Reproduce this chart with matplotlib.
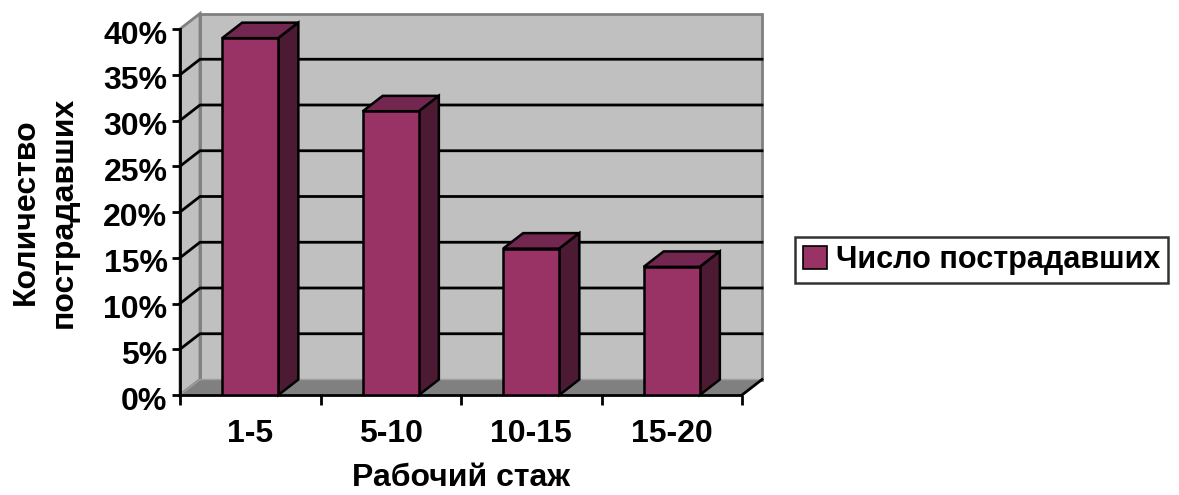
import matplotlib
matplotlib.use("Agg")
import matplotlib.pyplot as plt
from matplotlib.patches import Polygon
from matplotlib.ticker import FuncFormatter
from matplotlib.transforms import ScaledTranslation

plt.rcParams['font.family'] = ['Liberation Sans', 'DejaVu Sans']
plt.rcParams['font.weight'] = 'bold'

categories = ['1-5', '5-10', '10-15', '15-20']
values = [39, 31, 16, 14]
series_name = 'Число пострадавших'
x_title = 'Рабочий стаж'
y_title = 'Количество\nпострадавших'

W, H = 1179, 495
fig = plt.figure(figsize=(W / 100, H / 100), dpi=100)

# front plane of the 3d box, in pixels
left, right, bottom, top = 180, 742, 395, 29
ax = fig.add_axes([left / W, 1 - bottom / H, (right - left) / W, (bottom - top) / H])
ymax = 40
ax.set_xlim(0, len(categories))
ax.set_ylim(0, ymax)

# depth offsets (data units)
dx = 20 / ((right - left) / len(categories))
dy = 15.5 / ((bottom - top) / ymax)

wall = '#c0c0c0'
floor = '#808080'
front_col = '#993366'
top_col = '#732650'
side_col = '#4d1a33'
n = len(categories)


def poly(pts, fc, ec='none', lw=0, z=1):
    ax.add_patch(Polygon(pts, closed=True, facecolor=fc, edgecolor=ec,
                         linewidth=lw, zorder=z, clip_on=False))


# walls and floor
poly([(dx, dy), (n + dx, dy), (n + dx, ymax + dy), (dx, ymax + dy)], wall, '#808080', 2, 0.5)
poly([(0, 0), (dx, dy), (dx, ymax + dy), (0, ymax)], wall, '#808080', 2, 0.6)
poly([(0, 0), (n, 0), (n + dx, dy), (dx, dy)], floor, '#a0a0a0', 1, 0.7)
ax.plot([0, n], [0, 0], color='black', lw=2, zorder=0.8, clip_on=False, solid_capstyle='butt')
ax.plot([n, n + dx], [0, dy], color='black', lw=2, zorder=0.8, clip_on=False)

# gridlines on side and back wall
for v in range(5, ymax, 5):
    ax.plot([0, dx, n + dx], [v, v + dy, v + dy], color='black', lw=2, zorder=0.9,
            clip_on=False)

# columns: front face from ax.bar, top and side faces from the same values
w = 0.4
xs = [i + 0.5 for i in range(n)]
bars = ax.bar(xs, values, width=w, color=front_col, edgecolor='black', linewidth=1.8,
              zorder=3, label=series_name)
for x, v in zip(xs, values):
    x0, x1 = x - w / 2, x + w / 2
    poly([(x0, v), (x1, v), (x1 + dx, v + dy), (x0 + dx, v + dy)], top_col, 'black', 1.8, 2)
    poly([(x1, 0), (x1 + dx, dy), (x1 + dx, v + dy), (x1, v)], side_col, 'black', 1.8, 2)

for s in ['top', 'right', 'bottom']:
    ax.spines[s].set_visible(False)
ax.spines['left'].set_linewidth(2)
ax.spines['left'].set_zorder(4)
ax.set_facecolor('none')

ax.set_yticks(range(0, ymax + 1, 5))
ax.yaxis.set_major_formatter(FuncFormatter(lambda v, p: f'{int(v)}%'))
ax.tick_params(axis='y', length=6, width=2, labelsize=23, pad=3)
# percent labels sit a little below their ticks
shift = ScaledTranslation(0, -3 / 100, fig.dpi_scale_trans)
for lbl in ax.get_yticklabels():
    lbl.set_transform(lbl.get_transform() + shift)

ax.set_xticks(range(n + 1))
ax.set_xticklabels([''] * (n + 1))
ax.set_xticks(xs, minor=True)
ax.set_xticklabels(categories, minor=True)
ax.tick_params(axis='x', which='major', length=7, width=2, direction='out')
ax.tick_params(axis='x', which='minor', length=0, labelsize=23, pad=17)

fig.text(461 / W, 1 - 478 / H, x_title, ha='center', va='center', fontsize=23,
         fontweight='bold')
fig.text(45 / W, 1 - 212 / H, y_title, ha='center', va='center', fontsize=23,
         fontweight='bold', rotation=90, linespacing=1.35, multialignment='center')

leg = fig.legend(handles=[bars], loc='center left', bbox_to_anchor=(795 / W, 1 - 260 / H),
                 fontsize=22, frameon=True, fancybox=False, handlelength=0.8,
                 handleheight=0.8, handletextpad=0.3, borderpad=0.25, borderaxespad=0)
leg.get_frame().set_edgecolor('black')
leg.get_frame().set_linewidth(1.8)
leg.legend_handles[0].set_linewidth(1.2)

fig.savefig('out.png', dpi=100)
